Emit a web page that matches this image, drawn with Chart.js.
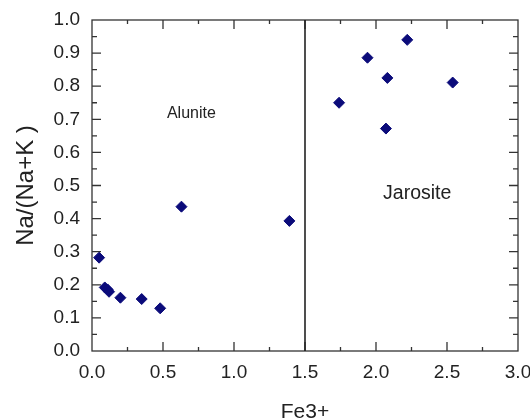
<!DOCTYPE html>
<html>
<head>
<meta charset="utf-8">
<script src="https://cdn.jsdelivr.net/npm/chart.js@4/dist/chart.umd.min.js"></script>
<style>
  html, body { margin: 0; padding: 0; background: #fff; }
  #wrap { width: 530px; height: 419px; }
</style>
</head>
<body>
<div id="wrap"><canvas id="chart"></canvas></div>
<script>
// Fe3+ content vs Na/(Na+K) ratio
const fe3 = [0.05, 0.09, 0.11, 0.12, 0.20, 0.35, 0.48, 0.63, 1.39, 1.74, 1.94, 2.08, 2.07, 2.22, 2.54];
const naRatio = [0.282, 0.192, 0.186, 0.179, 0.161, 0.157, 0.129, 0.436, 0.393, 0.750, 0.886, 0.825, 0.672, 0.940, 0.811];

// field boundary and field names
const boundaryFe3 = 1.5;
const fieldNames = ['Alunite', 'Jarosite'];
const fieldX = [0.70, 2.29];
const fieldY = [0.716, 0.476];
const fieldFontSize = [16, 19.5];

const xTicks = [0, 0.5, 1.0, 1.5, 2.0, 2.5, 3.0];
const yTicks = [0, 0.1, 0.2, 0.3, 0.4, 0.5, 0.6, 0.7, 0.8, 0.9, 1.0];

const FONT = '"Liberation Sans", Arial, sans-serif';
const INK = '#222';

// frame with inward ticks, field divider and field names
const framePlugin = {
  id: 'frame',
  beforeDatasetsDraw(chart) {
    const { ctx, chartArea: a, scales: { x, y } } = chart;
    ctx.save();
    ctx.strokeStyle = '#333';
    ctx.lineWidth = 1.3;
    ctx.strokeRect(a.left, a.top, a.right - a.left, a.bottom - a.top);

    ctx.beginPath();
    for (let i = 1; i < 12; i++) {
      const px = x.getPixelForValue(i * 0.25);
      const len = i % 2 === 0 ? 9 : 4;
      ctx.moveTo(px, a.bottom); ctx.lineTo(px, a.bottom - len);
      ctx.moveTo(px, a.top); ctx.lineTo(px, a.top + len);
    }
    for (let i = 1; i < 20; i++) {
      const py = y.getPixelForValue(i * 0.05);
      const len = i % 2 === 0 ? 9 : 5;
      ctx.moveTo(a.left, py); ctx.lineTo(a.left + len, py);
      ctx.moveTo(a.right, py); ctx.lineTo(a.right - len, py);
    }
    ctx.stroke();

    // Alunite / Jarosite boundary
    const bx = x.getPixelForValue(boundaryFe3);
    ctx.strokeStyle = '#222';
    ctx.lineWidth = 1.6;
    ctx.beginPath();
    ctx.moveTo(bx, a.top);
    ctx.lineTo(bx, a.bottom);
    ctx.stroke();

    ctx.fillStyle = INK;
    ctx.textAlign = 'center';
    ctx.textBaseline = 'middle';
    fieldNames.forEach((name, i) => {
      ctx.font = fieldFontSize[i] + 'px ' + FONT;
      ctx.fillText(name, x.getPixelForValue(fieldX[i]), y.getPixelForValue(fieldY[i]));
    });
    ctx.restore();
  }
};

new Chart(document.getElementById('chart'), {
  type: 'scatter',
  data: {
    datasets: [{
      data: fe3.map((v, i) => ({ x: v, y: naRatio[i] })),
      pointStyle: 'rectRot',
      pointRadius: 5.5,
      pointHoverRadius: 5.5,
      backgroundColor: '#0b0b7a',
      borderColor: '#0b0b7a',
      borderWidth: 1
    }]
  },
  options: {
    responsive: true,
    maintainAspectRatio: false,
    animation: false,
    layout: { padding: { top: 20, right: 12, left: 0, bottom: 0 } },
    plugins: { legend: { display: false }, tooltip: { enabled: false } },
    scales: {
      x: {
        type: 'linear',
        min: 0,
        max: 3,
        border: { display: false },
        grid: { display: false, drawTicks: false },
        afterBuildTicks: (s) => { s.ticks = xTicks.map(v => ({ value: v })); },
        afterFit: (s) => {
          s.height = 68;
          s.paddingLeft = 0;
          s.paddingRight = 0;
        },
        ticks: {
          padding: 10,
          color: INK,
          font: { family: FONT, size: 19 },
          callback: (v) => Number(v).toFixed(1)
        },
        title: {
          display: true,
          text: 'Fe3+',
          color: INK,
          font: { family: FONT, size: 21, lineHeight: 0.65 },
          padding: { top: 0, bottom: 0 }
        }
      },
      y: {
        type: 'linear',
        min: 0,
        max: 1,
        border: { display: false },
        grid: { display: false, drawTicks: false },
        afterBuildTicks: (s) => { s.ticks = yTicks.map(v => ({ value: v })); },
        afterFit: (s) => {
          s.width = 92;
          s.paddingTop = 0;
          s.paddingBottom = 0;
        },
        ticks: {
          padding: 12,
          color: INK,
          font: { family: FONT, size: 19 },
          callback: (v) => Number(v).toFixed(1)
        },
        title: {
          display: true,
          text: 'Na/(Na+K )',
          color: INK,
          font: { family: FONT, size: 24 },
          padding: { top: 12, bottom: 0 }
        }
      }
    }
  },
  plugins: [framePlugin]
});
</script>
</body>
</html>
